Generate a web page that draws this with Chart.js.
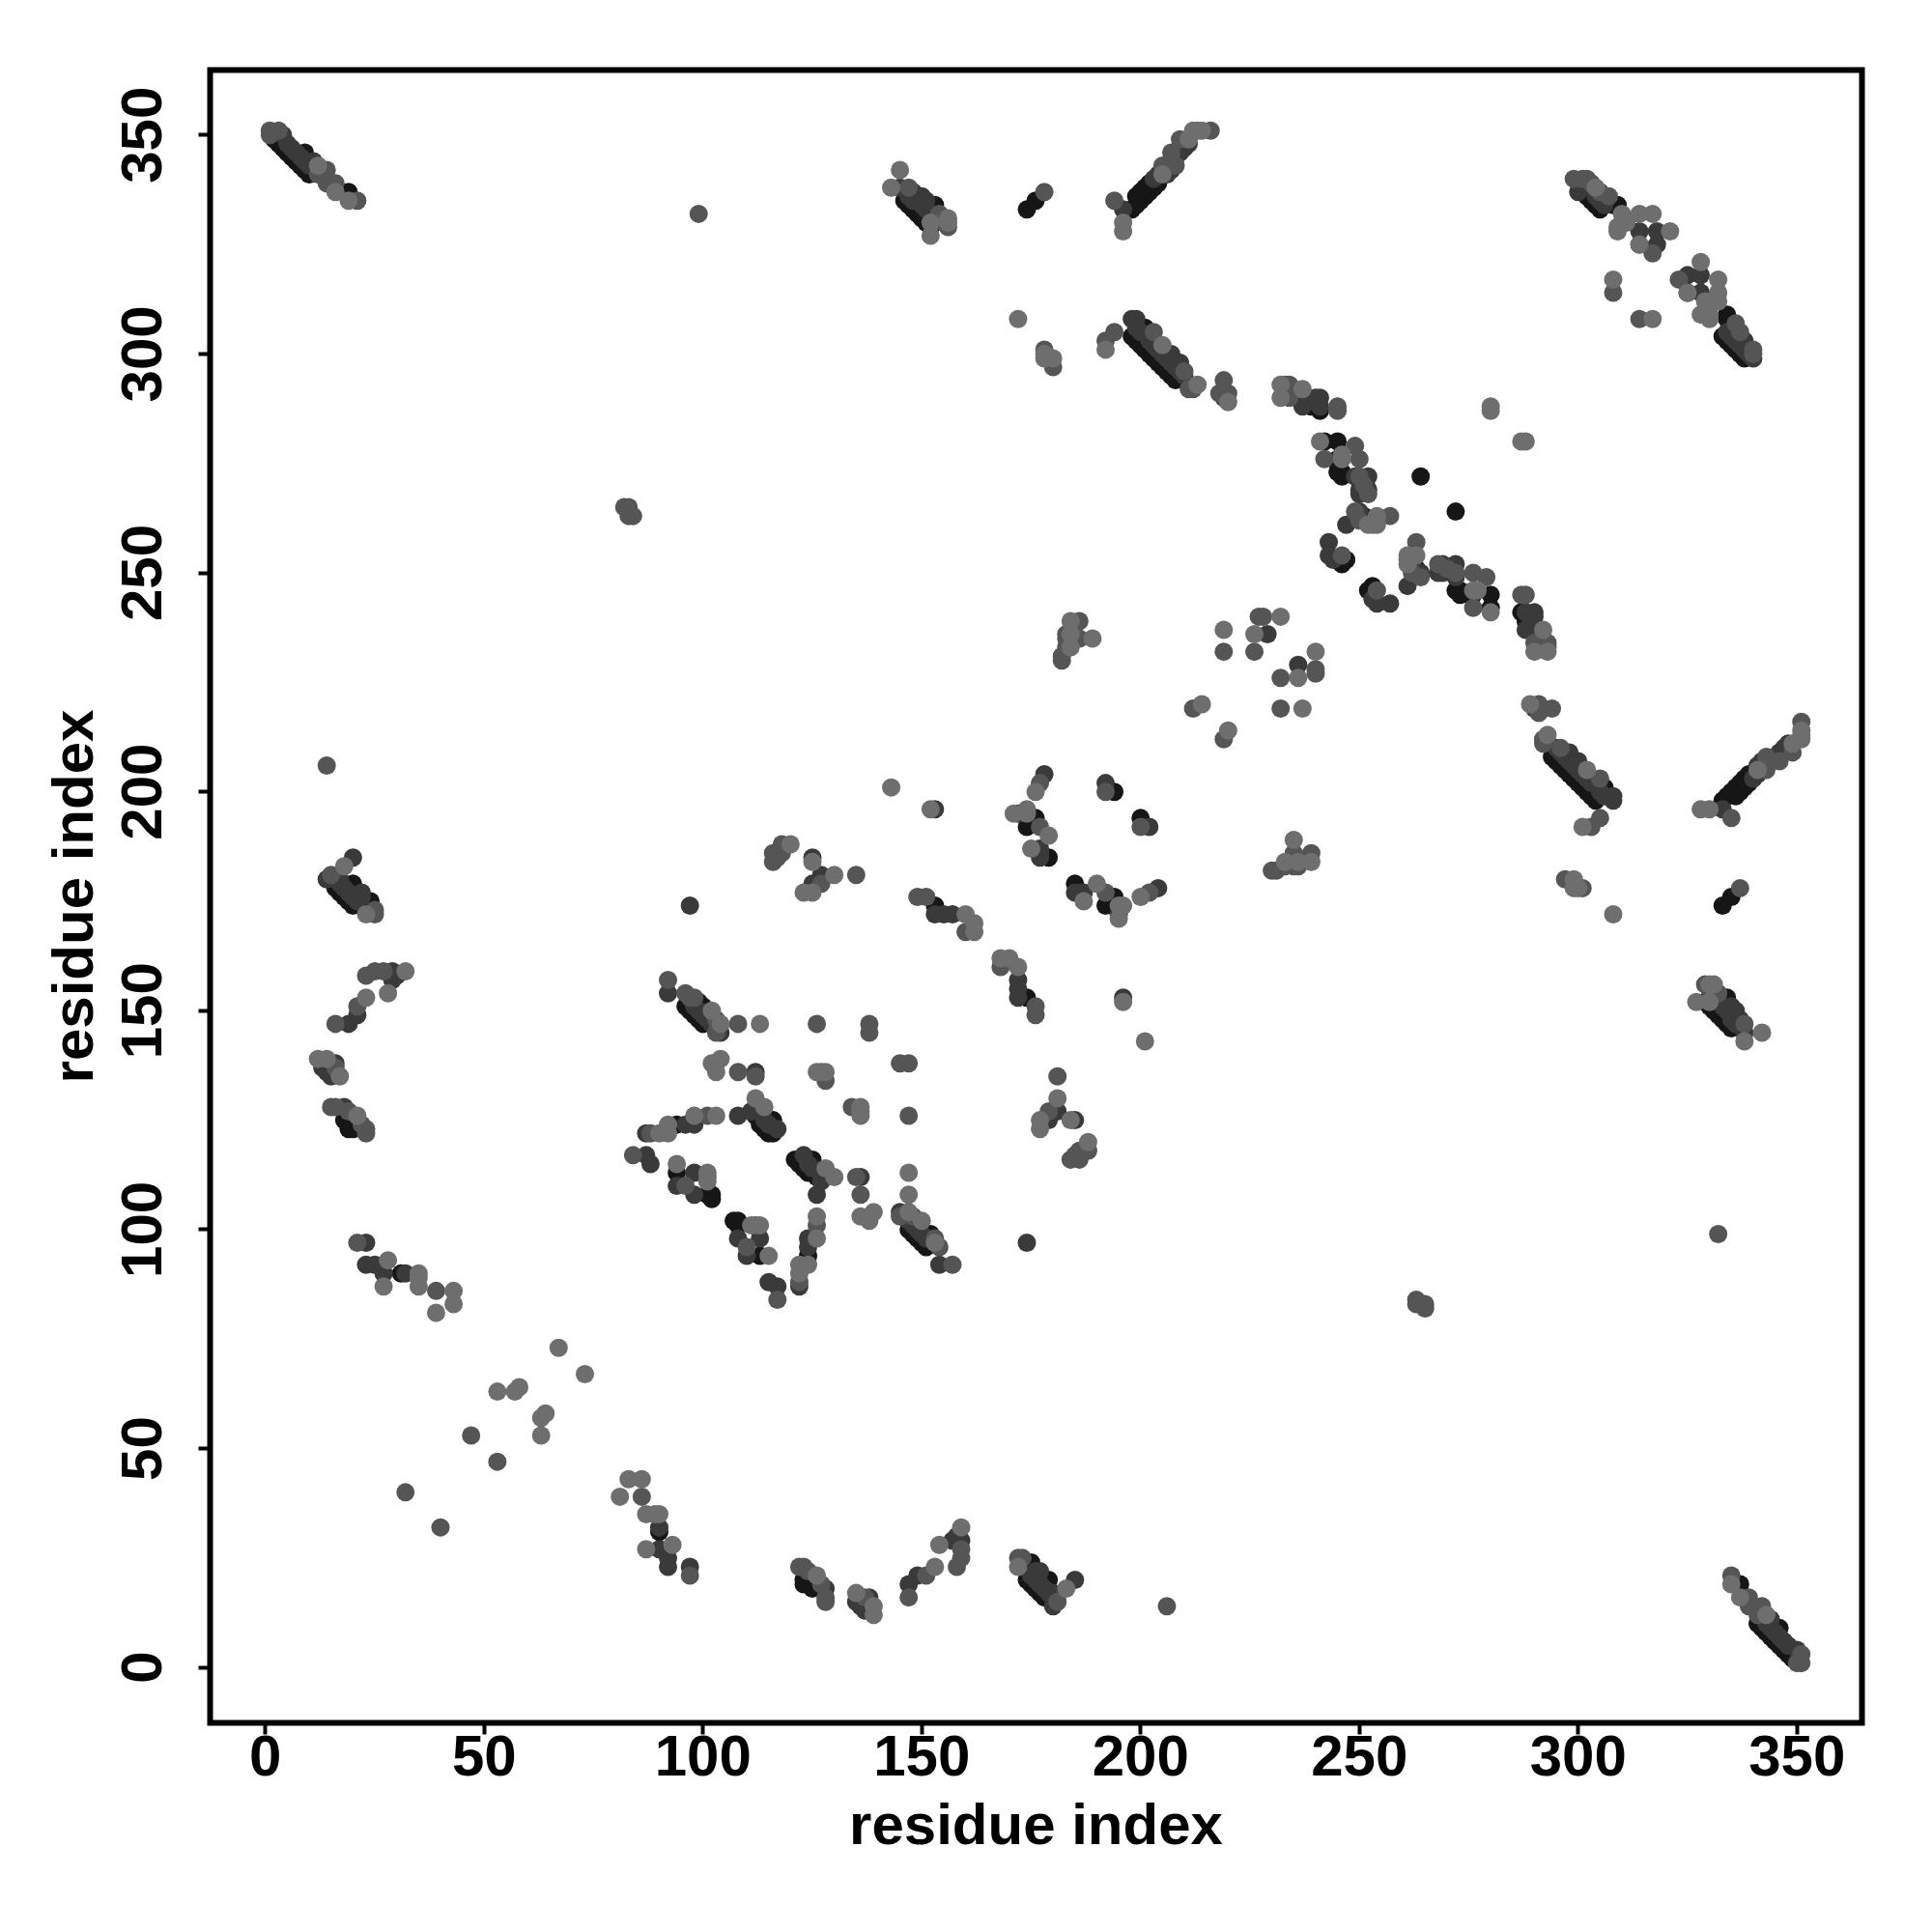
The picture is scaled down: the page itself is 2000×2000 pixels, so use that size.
<!DOCTYPE html>
<html lang="en">
<head>
    <meta charset="UTF-8">
    <title>Residue contact map</title>
    <script src="https://cdn.jsdelivr.net/npm/chart.js"></script>
    <style>
        html, body { margin: 0; padding: 0; background: #fff; }
        #wrap { width: 2000px; height: 2000px; }
    </style>
</head>
<body>
    <div id="wrap"><canvas id="contactChart" width="2000" height="2000"></canvas></div>
    <script>
        const tickValues = [0, 50, 100, 150, 200, 250, 300, 350];
        const axisTitle = 'residue index';

        const darkPoints = [
            [2,349],[3,348],[4,347],[5,346],[6,345],[7,344],[8,343],[9,342],[10,341],[9,346],[19,337],
            [146,335],[147,334],[148,333],[149,332],[150,331],[151,330],[152,329],[153,334],[174,333],[176,335],
            [198,333],[199,334],[200,335],[201,336],[202,337],[203,338],[204,339],[199,336],[200,337],[201,338],[202,339],
            [198,304],[199,303],[200,302],[201,301],[202,300],[203,299],[204,298],[205,297],[206,296],[207,295],[208,294],[201,306],
            [239,288],[241,287],[242,280],[245,280],[245,276],[245,275],[246,273],[246,272],[245,273],[251,263],[251,262],
            [247,253],[246,252],[246,253],[264,272],[16,178],[17,177],[18,176],[19,175],[20,174],[20,179],[24,175],
            [18,125],[19,124],[19,123],[20,123],[31,90],[179,185],[174,192],[176,194],[194,200],[153,174],
            [349,2],[348,3],[347,4],[346,5],[345,6],[344,7],[343,8],[342,9],[341,10],[346,9],[337,19],
            [335,146],[334,147],[333,148],[332,149],[331,150],[330,151],[329,152],[334,153],[333,174],[335,176],
            [333,198],[334,199],[335,200],[336,201],[337,202],[338,203],[339,204],[336,199],[337,200],[338,201],[339,202],
            [304,198],[303,199],[302,200],[301,201],[300,202],[299,203],[298,204],[297,205],[296,206],[295,207],[294,208],[306,201],
            [288,239],[287,241],[280,242],[280,245],[276,245],[275,245],[273,246],[272,246],[273,245],[263,251],[262,251],
            [253,247],[252,246],[253,246],[272,264],[178,16],[177,17],[176,18],[175,19],[174,20],[179,20],[175,24],
            [125,18],[124,19],[123,19],[123,20],[90,31],[185,179],[192,174],[194,176],[200,194],[174,153],
            [96,151],[97,150],[98,149],[99,148],[100,147],[99,152],[100,151],[94,113],[94,124],[101,108],[102,108],[102,107],
            [112,126],[113,125],[113,124],[114,123],[115,122],[116,122],[116,125],[121,116],[122,116],
            [151,96],[150,97],[149,98],[148,99],[147,100],[152,99],[151,99],[113,94],[124,94],[108,101],[108,102],[107,102],
            [126,112],[125,113],[124,113],[123,114],[122,115],[125,116],
            [301,337],[302,336],[303,335],[304,334],[305,333],[309,334],[314,325],[325,314],[334,309],
            [333,304],[334,303],[335,302],[336,301],[337,300],[338,299],[308,334],[334,308]
        ];
        const midPoints = [
            [4,350],[10,343],[11,344],[145,338],[148,337],[151,335],[150,336],
            [196,333],[203,340],[206,341],[207,342],[208,345],[209,346],[210,347],[210,348],[211,348],
            [198,308],[199,308],[199,306],[200,305],[207,300],[209,298],[219,290],
            [238,290],[237,288],[241,290],[241,288],[240,290],[249,272],[252,272],[252,269],[250,269],[250,268],[250,264],[247,261],[243,257],[243,254],[244,253],
            [14,180],[22,177],[22,176],[17,180],[16,180],[20,185],[29,159],[29,157],[30,158],[21,149],[19,147],
            [16,138],[13,137],[14,136],[15,135],[18,128],[23,97],[23,92],[25,92],[27,90],[32,90],
            [97,174],[125,185],[127,181],[125,179],[172,195],[178,204],[177,186],[177,185],[192,202],[177,187],[153,196],[229,236],[155,172],[157,172],[153,172],
            [350,4],[343,10],[344,11],[338,145],[337,148],[335,151],[336,150],
            [333,196],[340,203],[341,206],[342,207],[345,208],[346,209],[347,210],[348,210],[348,211],
            [308,198],[308,199],[306,199],[305,200],[300,207],[298,209],[290,219],
            [290,238],[288,237],[290,241],[288,241],[290,240],[272,249],[272,252],[269,252],[269,250],[268,250],[264,250],[261,247],[257,243],[254,243],[253,244],
            [180,14],[177,22],[176,22],[180,17],[180,16],[185,20],[159,29],[157,29],[158,30],[149,21],[147,19],
            [138,16],[137,13],[136,14],[135,15],[128,18],[97,23],[92,23],[92,25],[90,27],[90,32],
            [174,97],[185,125],[181,127],[179,125],[195,172],[204,178],[186,177],[185,177],[202,192],[187,177],[196,153],[236,229],[172,155],[172,157],[172,153],
            [92,154],[104,145],[111,127],[112,136],[108,126],[98,124],[96,124],[87,117],[87,122],[88,115],[98,113],[98,108],[94,110],[117,123],
            [154,92],[145,104],[127,111],[136,112],[126,108],[124,98],[124,96],[117,87],[122,87],[115,88],[113,98],[108,98],[110,94],[123,117],
            [300,337],[314,328],[318,328],[318,325],[325,318],[328,318],[328,314],[336,305],[338,303],[305,336],[303,338],[340,299],
            [5,348],[6,347],[7,346],[8,345],[9,344],[348,5],[347,6],[346,7],[345,8],[344,9],
            [147,336],[148,335],[149,335],[150,334],[151,333],[152,332],[336,147],[335,148],[335,149],[334,150],[333,151],[332,152],
            [204,341],[205,342],[206,343],[207,344],[208,346],[209,347],[341,204],[342,205],[343,206],[344,207],[346,208],[347,209],
            [202,303],[203,302],[204,301],[205,300],[206,299],[207,298],[208,297],[209,296],[210,295],[303,202],[302,203],[301,204],[300,205],[299,206],[298,207],[297,208],[296,209],[295,210],
            [17,179],[18,178],[19,177],[20,176],[21,175],[179,17],[178,18],[177,19],[176,20],[175,21],
            [334,305],[335,304],[336,303],[337,302],[338,301],[339,300],[304,336],[305,335],[306,334],
            [98,151],[99,150],[100,149],[101,148],[102,147],[151,98],[150,99],[149,100],[148,101],[147,102],
            [114,125],[115,124],[125,114],[124,115]
        ];
        const greyPoints = [
            [1,351],[1,350],[3,351],[14,342],[14,339],[16,339],[21,335],[12,341],[147,338],[154,332],[155,330],[156,329],
            [194,335],[205,343],[208,343],[207,346],[209,349],[216,351],[178,301],[180,297],[192,303],[194,305],
            [203,305],[211,292],[212,292],[210,296],[219,294],[218,291],[220,291],[219,291],
            [234,293],[234,290],[245,288],[245,287],[233,293],[249,279],[242,276],[250,276],[251,270],[249,264],[257,263],[250,262],[246,254],[252,268],[250,272],
            [82,265],[83,265],[84,263],[83,263],[99,332],[14,206],[15,181],[25,172],[25,173],[25,159],[27,159],[23,158],[21,151],[16,147],[16,137],
            [15,128],[16,128],[19,127],[23,123],[23,122],[22,124],[21,97],[39,86],[47,53],[32,40],[178,337],
            [135,181],[116,184],[116,186],[118,186],[118,188],[117,185],[127,179],[186,239],[186,235],[183,236],[183,235],[183,233],[182,230],[182,231],
            [177,202],[192,200],[177,192],[149,176],[151,176],[160,168],[219,232],[226,232],[212,219],[228,240],[227,240],[308,314],
            [351,1],[350,1],[351,3],[342,14],[339,14],[339,16],[335,21],[341,12],[338,147],[332,154],[330,155],[329,156],
            [335,194],[343,205],[343,208],[346,207],[349,209],[351,216],[301,178],[297,180],[303,192],[305,194],
            [305,203],[292,211],[292,212],[296,210],[294,219],[291,218],[291,220],[291,219],
            [293,234],[290,234],[288,245],[287,245],[293,233],[279,249],[276,242],[276,250],[270,251],[264,249],[263,257],[262,250],[254,246],[268,252],[272,250],
            [265,82],[265,83],[263,84],[263,83],[332,99],[206,14],[181,15],[172,25],[173,25],[159,25],[159,27],[158,23],[151,21],[147,16],[137,16],
            [128,15],[128,16],[127,19],[123,23],[122,23],[124,22],[97,21],[86,39],[53,47],[40,32],[337,178],
            [181,135],[184,116],[186,116],[186,118],[188,118],[185,117],[179,127],[239,186],[235,186],[236,183],[235,183],[233,183],[230,182],[231,182],
            [202,177],[200,192],[192,177],[176,149],[176,151],[168,160],[232,219],[232,226],[219,212],[240,228],[240,227],[314,308],
            [92,157],[96,154],[97,153],[98,153],[103,148],[103,145],[108,147],[126,147],[138,147],[138,145],[108,136],[112,135],[101,126],[88,122],[84,117],[96,110],[101,112],[128,134],[134,128],[117,84],
            [157,92],[154,96],[153,97],[153,98],[148,103],[145,103],[147,126],[147,138],[145,138],[136,108],[135,112],[126,101],[122,88],[110,96],[112,101],
            [299,340],[301,340],[302,340],[303,339],[305,337],[307,336],[317,323],[323,317],[340,300],[340,301],[336,307],[337,305]
        ];
        const lightPoints = [
            [12,343],[16,337],[19,335],[145,342],[143,338],[156,330],[156,331],[152,327],[152,330],
            [196,328],[196,330],[205,341],[212,351],[213,351],[211,349],[214,351],[172,308],[178,299],[178,300],[180,299],[192,301],[205,302],[213,293],[220,289],
            [232,293],[232,290],[237,292],[241,280],[246,277],[246,276],[254,263],[253,261],[254,261],[252,261],[280,288],[280,287],
            [18,183],[23,172],[32,159],[28,154],[23,153],[12,139],[14,139],[17,135],[21,126],
            [28,93],[27,87],[35,90],[35,89],[35,87],[43,86],[43,83],[39,81],[67,73],[53,63],[57,63],[58,64],
            [143,201],[130,181],[125,177],[123,177],[125,184],[120,188],[184,239],[189,235],[184,236],[184,233],[152,196],
            [176,200],[171,195],[174,196],[174,195],[175,187],[179,190],[162,170],[162,168],[160,172],[219,237],[232,240],[226,236],[214,220],[308,317],
            [343,12],[337,16],[335,19],[342,145],[338,143],[330,156],[331,156],[327,152],[330,152],
            [328,196],[330,196],[341,205],[351,212],[351,213],[349,211],[351,214],[308,172],[299,178],[300,178],[299,180],[301,192],[302,205],[293,213],[289,220],
            [293,232],[290,232],[292,237],[280,241],[277,246],[276,246],[263,254],[261,253],[261,254],[261,252],[288,280],[287,280],
            [183,18],[172,23],[159,32],[154,28],[153,23],[139,12],[139,14],[135,17],[126,21],
            [93,28],[87,27],[90,35],[89,35],[87,35],[86,43],[83,43],[81,39],[73,67],[63,53],[63,57],[64,58],
            [201,143],[181,130],[177,125],[177,123],[184,125],[188,120],[239,184],[235,189],[236,184],[233,184],[196,152],
            [200,176],[195,171],[196,174],[195,174],[187,175],[190,179],[170,162],[168,162],[172,160],[237,219],[240,232],[236,226],[220,214],[317,308],
            [102,150],[104,147],[113,147],[104,139],[102,138],[103,136],[112,130],[114,128],[103,126],[98,126],[92,124],[92,122],[90,122],[94,115],[101,113],[126,136],[127,136],[128,136],[103,138],
            [150,102],[147,104],[147,113],[139,104],[138,102],[136,103],[130,112],[128,114],[126,103],[126,98],[124,92],[122,92],[122,90],[115,94],[113,101],[136,126],[136,127],[136,128],[138,103],[147,108],[111,101],[101,111],[153,97],
            [304,338],[310,332],[310,330],[311,330],[309,329],[309,328],[314,332],[317,332],[321,328],[314,325],[328,321],[332,317],[332,314],[325,314],[328,309],[330,308],[329,312],[332,312],[330,309]
        ];

        const toPoints = list => list.map(p => ({ x: p[0], y: p[1] }));

        // box and text sit outside the scale options so they can match the R layout exactly
        const framePlugin = {
            id: 'frame',
            afterDraw(chart) {
                const { ctx, chartArea: a, scales } = chart;
                ctx.save();
                ctx.strokeStyle = '#000';
                ctx.lineWidth = 6;
                ctx.strokeRect(a.left, a.top, a.right - a.left, a.bottom - a.top);
                ctx.fillStyle = '#000';
                ctx.font = 'bold 60px "Liberation Sans"';
                ctx.textAlign = 'center';
                ctx.textBaseline = 'middle';
                tickValues.forEach(v => ctx.fillText(String(v), scales.x.getPixelForValue(v), 1821));
                ctx.fillText(axisTitle, (a.left + a.right) / 2, 1892);
                tickValues.forEach(v => {
                    ctx.save();
                    ctx.translate(150, scales.y.getPixelForValue(v));
                    ctx.rotate(-Math.PI / 2);
                    ctx.fillText(String(v), 0, 0);
                    ctx.restore();
                });
                ctx.translate(79, (a.top + a.bottom) / 2);
                ctx.rotate(-Math.PI / 2);
                ctx.fillText(axisTitle, 0, 0);
                ctx.restore();
            }
        };

        const axisOptions = {
            type: 'linear',
            min: -12.65,
            max: 364.85,
            afterBuildTicks: scale => { scale.ticks = tickValues.map(v => ({ value: v })); },
            ticks: { display: false },
            border: { display: false },
            grid: { drawOnChartArea: false, drawTicks: true, tickLength: 12, tickColor: '#000', tickWidth: 4 }
        };

        new Chart(document.getElementById('contactChart').getContext('2d'), {
            type: 'scatter',
            data: {
                datasets: [
                    { label: 'dark', data: toPoints(darkPoints), backgroundColor: '#161616', order: 4 },
                    { label: 'mid', data: toPoints(midPoints), backgroundColor: '#3a3a3a', order: 3 },
                    { label: 'grey', data: toPoints(greyPoints), backgroundColor: '#555555', order: 2 },
                    { label: 'light', data: toPoints(lightPoints), backgroundColor: '#6e6e6e', order: 1 }
                ]
            },
            options: {
                responsive: false,
                animation: false,
                layout: { padding: { left: 205.5, right: 72.5, top: 72.5, bottom: 204.5 } },
                elements: { point: { radius: 9.5, borderWidth: 0 } },
                plugins: { legend: { display: false }, tooltip: { enabled: false } },
                scales: { x: axisOptions, y: axisOptions }
            },
            plugins: [framePlugin]
        });
    </script>
</body>
</html>
